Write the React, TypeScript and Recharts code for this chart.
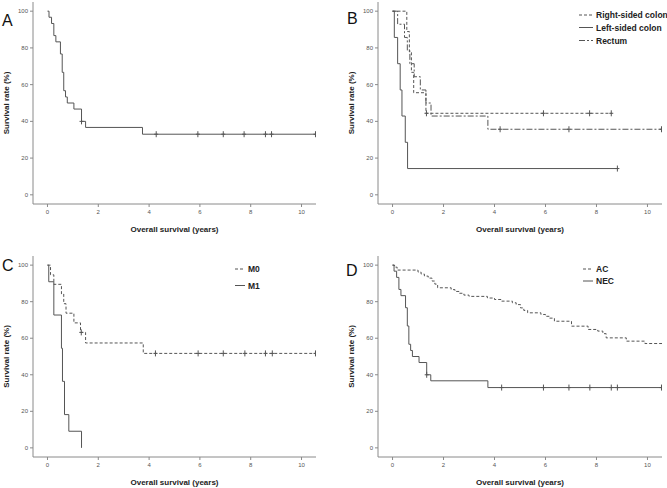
import React from "react";
import { ComposedChart, Line, Scatter, XAxis, YAxis } from "recharts";

// Kaplan-Meier curves, times in years, survival in %
const necTimes = [0, 0.06, 0.16, 0.25, 0.33, 0.51, 0.58, 0.64, 0.71, 0.78, 1.04, 1.34, 1.5, 3.74, 10.57];
const necSurv = [100, 96.7, 93.3, 86.7, 83.3, 76.7, 66.7, 56.7, 53.3, 50, 46.7, 40, 36.7, 33, 33];
const necCensTimes = [1.34, 4.28, 5.92, 6.92, 7.74, 8.58, 8.82, 10.55];
const necCensSurv = [40, 33, 33, 33, 33, 33, 33, 33];

const rightTimes = [0, 0.56, 0.66, 0.74, 0.83, 1.31, 8.58];
const rightSurv = [100, 88.9, 77.8, 66.7, 55.6, 44.4, 44.4];
const rightCensTimes = [1.33, 5.92, 7.73, 8.58];
const rightCensSurv = [44.4, 44.4, 44.4, 44.4];

const leftTimes = [0, 0.07, 0.2, 0.3, 0.37, 0.5, 0.59, 8.82];
const leftSurv = [100, 85.7, 71.4, 57.1, 42.9, 28.6, 14.3, 14.3];
const leftCensTimes = [8.82];
const leftCensSurv = [14.3];

const rectumTimes = [0, 0.2, 0.47, 0.58, 0.68, 0.85, 1.09, 1.31, 1.51, 3.74, 10.57];
const rectumSurv = [100, 92.9, 85.7, 78.6, 71.4, 64.3, 57.1, 50, 42.9, 35.7, 35.7];
const rectumCensTimes = [4.22, 6.92, 10.55];
const rectumCensSurv = [35.7, 35.7, 35.7];

const m0Times = [0, 0.12, 0.25, 0.55, 0.64, 0.73, 1.04, 1.3, 1.5, 3.77, 10.57];
const m0Surv = [100, 94.7, 89.5, 84.2, 78.9, 73.7, 68.4, 63.2, 57.4, 51.7, 51.7];
const m0CensTimes = [1.33, 4.25, 5.93, 6.92, 7.77, 8.58, 8.85, 10.55];
const m0CensSurv = [63.2, 51.7, 51.7, 51.7, 51.7, 51.7, 51.7, 51.7];

const m1Times = [0, 0.05, 0.25, 0.55, 0.59, 0.67, 0.84, 1.34];
const m1Surv = [100, 90.9, 72.7, 54.5, 36.4, 18.2, 9.1, 0];

const acTimes = [0, 0.08, 0.18, 1.0, 1.12, 1.25, 1.4, 1.55, 1.66, 1.77, 2.3, 2.45, 2.62, 2.8, 3.0, 3.72, 4.0, 4.28, 4.7, 4.85, 5.02, 5.15, 5.3, 5.82, 6.0, 6.15, 6.35, 7.02, 7.67, 8.05, 8.25, 8.38, 9.17, 9.9, 10.57];
const acSurv = [100, 98.9, 97.3, 96.2, 95.1, 94.0, 92.9, 91.3, 89.6, 87.6, 86.6, 85.6, 84.6, 83.6, 82.9, 82.0, 81.2, 80.3, 79.4, 78.4, 76.6, 75.2, 73.9, 73.0, 72.0, 71.0, 69.3, 66.6, 64.8, 63.9, 62.5, 60.2, 58.4, 57.1, 57.1];

const xTicks = [0, 2, 4, 6, 8, 10];
const yTicks = [0, 20, 40, 60, 80, 100];

const FONT = '"Liberation Sans", Arial, sans-serif';
const LINE = "#555";
const AXIS = "#8a8a8a";

type Series = {
  name: string;
  times: number[];
  surv: number[];
  censTimes?: number[];
  censSurv?: number[];
  dash?: string;
};

const toPoints = (t: number[], s: number[]) => t.map((x, i) => ({ t: x, s: s[i] }));

function Censor(props: any) {
  const { cx, cy } = props;
  if (cx == null || cy == null) return null;
  return (
    <g stroke={LINE} strokeWidth={1}>
      <line x1={cx} x2={cx} y1={cy - 3} y2={cy + 3} />
      <line x1={cx - 2} x2={cx + 2} y1={cy} y2={cy} />
    </g>
  );
}

type PanelProps = {
  letter: string;
  letterX: number;
  letterY: number;
  left: number;
  top: number;
  width: number;
  height: number;
  yAxisW: number;
  marginTop: number;
  marginRight: number;
  xAxisH: number;
  yLabelX: number;
  series: Series[];
  legend?: { x: number; textX: number; rows: number[] };
};

function Panel(p: PanelProps) {
  const plotTop = p.marginTop;
  const plotBottom = p.height - p.xAxisH;
  const plotLeft = p.yAxisW;
  const plotRight = p.width - p.marginRight;
  return (
    <div style={{ position: "absolute", left: p.left, top: p.top, width: p.width, height: p.height }}>
      <ComposedChart width={p.width} height={p.height} margin={{ top: p.marginTop, right: p.marginRight, left: 0, bottom: 0 }}>
        <XAxis
          type="number"
          dataKey="t"
          domain={[-0.57, 10.57]}
          ticks={xTicks}
          height={p.xAxisH}
          tickSize={3}
          tickMargin={3}
          stroke={AXIS}
          tick={{ fontSize: 6, fill: "#555", fontFamily: FONT }}
          allowDataOverflow
        />
        <YAxis
          type="number"
          domain={[-5, 105]}
          ticks={yTicks}
          width={p.yAxisW}
          tickSize={3}
          tickMargin={2}
          stroke={AXIS}
          tick={{ fontSize: 6, fill: "#555", fontFamily: FONT }}
          allowDataOverflow
        />
        {p.series.map((s) => (
          <Line
            key={s.name}
            data={toPoints(s.times, s.surv)}
            dataKey="s"
            type="stepAfter"
            stroke={LINE}
            strokeWidth={1}
            strokeDasharray={s.dash}
            dot={false}
            activeDot={false}
            isAnimationActive={false}
          />
        ))}
        {p.series
          .filter((s) => s.censTimes)
          .map((s) => (
            <Scatter
              key={s.name + "-c"}
              data={toPoints(s.censTimes!, s.censSurv!)}
              dataKey="s"
              shape={<Censor />}
              isAnimationActive={false}
            />
          ))}
      </ComposedChart>
      <svg width={p.width} height={p.height} style={{ position: "absolute", left: 0, top: 0, pointerEvents: "none" }}>
        <text x={p.letterX} y={p.letterY} fontSize={16} fontFamily={FONT} fill="#111">
          {p.letter}
        </text>
        <text
          x={(plotLeft + plotRight) / 2}
          y={232}
          textAnchor="middle"
          fontSize={8}
          fontWeight="bold"
          fontFamily={FONT}
          fill="#222"
        >
          Overall survival (years)
        </text>
        <text
          transform={`translate(${p.yLabelX + 3},${(plotTop + plotBottom) / 2}) rotate(-90)`}
          textAnchor="middle"
          fontSize={8}
          fontWeight="bold"
          fontFamily={FONT}
          fill="#222"
        >
          Survival rate (%)
        </text>
        {p.legend &&
          p.series.map((s, i) => (
            <g key={s.name}>
              <line
                x1={p.legend!.x}
                x2={p.legend!.textX - 3}
                y1={p.legend!.rows[i]}
                y2={p.legend!.rows[i]}
                stroke={LINE}
                strokeWidth={1}
                strokeDasharray={s.dash}
              />
              <text
                x={p.legend!.textX}
                y={p.legend!.rows[i] + 3}
                fontSize={8.5}
                fontWeight="bold"
                fontFamily={FONT}
                fill="#222"
              >
                {s.name}
              </text>
            </g>
          ))}
      </svg>
    </div>
  );
}

const necSeries: Series = { name: "NEC", times: necTimes, surv: necSurv, censTimes: necCensTimes, censSurv: necCensSurv };

export default function App() {
  return (
    <div style={{ position: "absolute", left: 0, top: 0, width: 667, height: 488, background: "#fff", fontFamily: FONT }}>
      <Panel
        letter="A" letterX={2} letterY={26}
        left={0} top={0} width={334} height={244}
        yAxisW={33} marginTop={2} marginRight={18} xAxisH={40} yLabelX={6}
        series={[necSeries]}
      />
      <Panel
        letter="B" letterX={13} letterY={24}
        left={334} top={0} width={333} height={244}
        yAxisW={44} marginTop={2} marginRight={5} xAxisH={40} yLabelX={17}
        series={[
          { name: "Right-sided colon", times: rightTimes, surv: rightSurv, censTimes: rightCensTimes, censSurv: rightCensSurv, dash: "3 2" },
          { name: "Left-sided colon", times: leftTimes, surv: leftSurv, censTimes: leftCensTimes, censSurv: leftCensSurv },
          { name: "Rectum", times: rectumTimes, surv: rectumSurv, censTimes: rectumCensTimes, censSurv: rectumCensSurv, dash: "6 2 2 2" },
        ]}
        legend={{ x: 245, textX: 262, rows: [15, 27.5, 40.5] }}
      />
      <Panel
        letter="C" letterX={2} letterY={18}
        left={0} top={253} width={334} height={235}
        yAxisW={33} marginTop={3} marginRight={18} xAxisH={31} yLabelX={6}
        series={[
          { name: "M0", times: m0Times, surv: m0Surv, censTimes: m0CensTimes, censSurv: m0CensSurv, dash: "3 2" },
          { name: "M1", times: m1Times, surv: m1Surv },
        ]}
        legend={{ x: 235, textX: 248, rows: [16, 32.5] }}
      />
      <Panel
        letter="D" letterX={12} letterY={23}
        left={334} top={253} width={333} height={235}
        yAxisW={44} marginTop={3} marginRight={5} xAxisH={31} yLabelX={17}
        series={[
          { name: "AC", times: acTimes, surv: acSurv, dash: "3 2" },
          { name: "NEC", times: necTimes, surv: necSurv, censTimes: necCensTimes, censSurv: necCensSurv },
        ]}
        legend={{ x: 249, textX: 262, rows: [16, 28] }}
      />
    </div>
  );
}
